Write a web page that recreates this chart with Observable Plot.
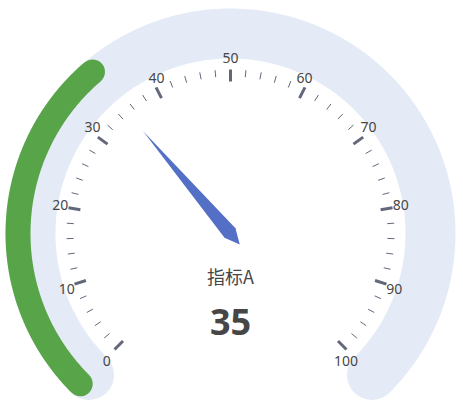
<!DOCTYPE html>
<html>
<head>
<meta charset="utf-8">
<script src="https://cdn.jsdelivr.net/npm/d3@7"></script>
<script src="https://cdn.jsdelivr.net/npm/@observablehq/plot@0.6"></script>
<style>
  html, body { margin: 0; padding: 0; background: #fff; }
  #chart svg { display: block; }
</style>
</head>
<body>
<div id="chart"></div>
<script>
// ---- data ----
const gaugeMin = 0;
const gaugeMax = 100;
const gaugeValue = 35;
const gaugeTitle = "指标A";
const tickLabels = [0, 10, 20, 30, 40, 50, 60, 70, 80, 90, 100];
const minorStep = 2;

// ---- layout ----
const W = 463, H = 405;
const cx = 230, cy = 233;
const startAngle = 225, endAngle = -45;
const ang = v => (startAngle + (endAngle - startAngle) * (v - gaugeMin) / (gaugeMax - gaugeMin)) * Math.PI / 180;
const pt = (v, r) => ({x: cx + r * Math.cos(ang(v)), y: cy - r * Math.sin(ang(v))});

function arc(v0, v1, r) {
  const n = 240;
  return d3.range(n + 1).map(i => pt(v0 + (v1 - v0) * i / n, r));
}

const bgArc = arc(gaugeMin, gaugeMax, 200);
const progArc = arc(gaugeMin, gaugeValue, 212.5);

const majorTicks = tickLabels.map(v => ({a: pt(v, 152), b: pt(v, 164)}));
const minorValues = d3.range(gaugeMin, gaugeMax + 1e-9, minorStep).filter(v => !tickLabels.includes(v));
const minorTicks = minorValues.map(v => ({a: pt(v, 157), b: pt(v, 164)}));

// label anchoring (ECharts-like alignment rules)
const labels = tickLabels.map(v => {
  const ux = Math.cos(ang(v)), uy = -Math.sin(ang(v));
  const textAnchor = ux < -0.4 ? "start" : ux > 0.4 ? "end" : "middle";
  const lineAnchor = uy < -0.8 ? "top" : uy > 0.8 ? "bottom" : "middle";
  return {v, textAnchor, lineAnchor, ...pt(v, 180.5)};
});
const labelGroups = d3.groups(labels, d => d.textAnchor + "|" + d.lineAnchor);

// needle polygon in local (u along pointer, w perpendicular)
const a0 = ang(gaugeValue);
const dir = [Math.cos(a0), -Math.sin(a0)];
const perp = [-dir[1], dir[0]];
const local = [[134, 0], [0, 7.2], [-15, 0], [0, -7.2], [134, 0]];
const needle = local.map(([u, w]) => ({x: cx - 0.5 + u * dir[0] + w * perp[0], y: cy - 0.5 + u * dir[1] + w * perp[1]}));

const chart = Plot.plot({
  width: W,
  height: H,
  margin: 0,
  x: {domain: [0, W], range: [0, W], axis: null},
  y: {domain: [0, H], range: [0, H], axis: null},
  style: {fontFamily: "'Noto Sans', 'Noto Sans CJK SC', sans-serif", background: "#fff"},
  marks: [
    Plot.line(bgArc, {x: "x", y: "y", stroke: "#e4eaf6", strokeWidth: 50, strokeLinecap: "round"}),
    Plot.line(progArc, {x: "x", y: "y", stroke: "#58a449", strokeWidth: 25, strokeLinecap: "round"}),
    Plot.link(minorTicks, {x1: d => d.a.x, y1: d => d.a.y, x2: d => d.b.x, y2: d => d.b.y, stroke: "#63677a", strokeWidth: 1}),
    Plot.link(majorTicks, {x1: d => d.a.x, y1: d => d.a.y, x2: d => d.b.x, y2: d => d.b.y, stroke: "#63677a", strokeWidth: 3}),
    ...labelGroups.map(([, grp]) => Plot.text(grp, {
      x: "x", y: "y", text: d => String(d.v), fontSize: 14, fill: "#464646",
      textAnchor: grp[0].textAnchor, lineAnchor: grp[0].lineAnchor
    })),
    Plot.line(needle, {x: "x", y: "y", fill: "#5470c6", stroke: "none"}),
    Plot.text([gaugeTitle], {x: () => cx, y: () => cy + 45, text: d => d, fontSize: 18, fill: "#464646", fontFamily: "'Noto Sans CJK SC', sans-serif"}),
    Plot.text([gaugeValue], {x: () => cx, y: () => cy + 90, text: d => String(d), fontSize: 36, fontWeight: "bold", fill: "#464646"})
  ]
});
document.getElementById("chart").appendChild(chart);
</script>
</body>
</html>
